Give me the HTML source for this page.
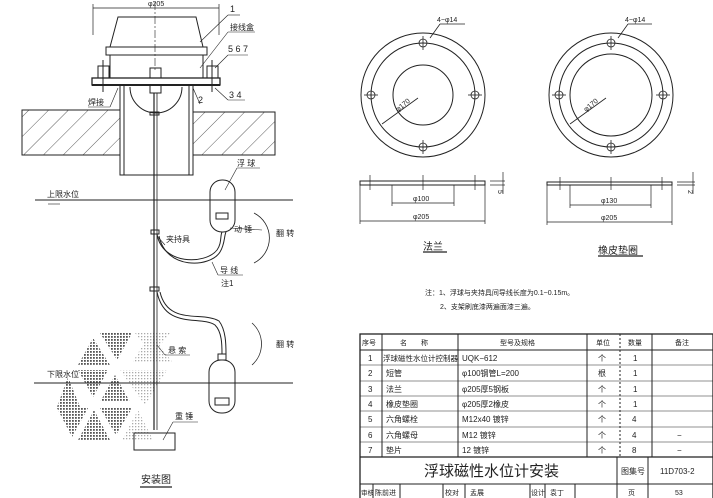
<!DOCTYPE html>
<html><head><meta charset="utf-8"><style>
html,body{margin:0;padding:0;background:#fff;}
svg{display:block;}
text{font-family:"Liberation Sans","Noto Sans CJK SC",sans-serif;fill:#222;}
</style></head><body>
<svg width="713" height="498" viewBox="0 0 713 498" xmlns="http://www.w3.org/2000/svg">
<defs>
<pattern id="hatch" width="14" height="14" patternUnits="userSpaceOnUse" patternTransform="rotate(45)">
<line x1="0" y1="0" x2="0" y2="14" stroke="#333" stroke-width="0.8"/>
</pattern>
<pattern id="dots" width="3" height="3" patternUnits="userSpaceOnUse">
<rect width="1.8" height="1.8" fill="#555"/>
</pattern>
<pattern id="dotsl" width="3" height="3" patternUnits="userSpaceOnUse">
<rect width="1.3" height="1.3" fill="#aaa"/>
</pattern>
</defs>
<g stroke="#222" stroke-width="1" fill="none">
<g stroke="none">
<polygon points="93,338 78,365 110,365" fill="url(#dots)"/>
<polygon points="100,333 132,333 117,360" fill="url(#dots)"/>
<polygon points="150,333 132,363 173,363" fill="url(#dotsl)"/>
<polygon points="135,333 170,333 152,355" fill="url(#dotsl)"/>
<polygon points="78,370 108,370 93,397" fill="url(#dots)"/>
<polygon points="115,375 100,402 130,402" fill="url(#dots)"/>
<polygon points="120,370 167,370 145,405" fill="url(#dotsl)"/>
<polygon points="68,377 57,407 80,407" fill="url(#dots)"/>
<polygon points="57,408 88,408 72,437" fill="url(#dots)"/>
<polygon points="94,410 78,440 110,440" fill="url(#dots)"/>
<polygon points="100,408 132,408 116,435" fill="url(#dots)"/>
<polygon points="138,410 122,440 153,440" fill="url(#dotsl)"/>
</g>
<line x1="93" y1="8" x2="219" y2="8" stroke-width="0.7"/>
<line x1="93" y1="4" x2="93" y2="35" stroke-width="0.7"/>
<line x1="219" y1="4" x2="219" y2="35" stroke-width="0.7"/>
<polygon points="118,17 196,17 203,47 110,47"/>
<rect x="106" y="47" width="101" height="8"/>
<rect x="110" y="55" width="93" height="23"/>
<rect x="92" y="78" width="128" height="7" stroke-width="1.3"/>
<line x1="92" y1="85" x2="220" y2="85" stroke-width="2"/>
<rect x="98" y="66" width="11" height="12"/><line x1="103" y1="60" x2="103" y2="92"/>
<rect x="207" y="66" width="11" height="12"/><line x1="212" y1="60" x2="212" y2="92"/>
<rect x="150" y="68" width="11" height="10"/>
<rect x="150" y="85" width="11" height="8"/>
<line x1="155" y1="2" x2="155" y2="70" stroke-width="0.6" stroke-dasharray="8,2,2,2"/>
<rect x="120" y="85" width="73" height="90"/>
<line x1="124" y1="85" x2="124" y2="175"/>
<line x1="189" y1="85" x2="189" y2="175"/>
<path d="M130,87 A26,26 0 0 0 182,87"/>
<rect x="22" y="110" width="98" height="45" fill="url(#hatch)"/>
<rect x="193" y="112" width="82" height="43" fill="url(#hatch)"/>
<line x1="154" y1="93" x2="154" y2="430" stroke-width="1.2"/>
<line x1="157" y1="93" x2="157" y2="430" stroke-width="0.8"/>
<rect x="150" y="112" width="9" height="3"/>
<rect x="151" y="230" width="8" height="4"/>
<rect x="150" y="287" width="9" height="4"/>
<rect x="134" y="433" width="41" height="17"/>
<line x1="35" y1="200" x2="293" y2="200"/>
<line x1="48" y1="204" x2="60" y2="204" stroke-width="0.6"/>
<line x1="34" y1="383" x2="293" y2="383"/>
<rect x="210" y="180" width="25" height="52" rx="12"/>
<rect x="216" y="213" width="12" height="6"/>
<rect x="209" y="360" width="26" height="53" rx="12"/>
<rect x="215" y="398" width="14" height="7"/>
<rect x="218" y="354" width="8" height="6"/>
<path d="M157,234 C162,265 205,265 217,250 C222,243 220,236 222,232"/>
<path d="M159,236 C166,270 210,268 220,252 C225,244 224,236 226,232"/>
<path d="M157,292 C165,330 200,315 215,325 C222,332 222,345 222,354"/>
<path d="M160,292 C168,326 203,311 219,321 C226,330 226,345 226,354"/>
<path d="M254,213 A28,28 0 0 1 254,263" stroke-width="0.8"/>
<path d="M252,323 A28,28 0 0 1 252,365" stroke-width="0.8"/>
<line x1="200" y1="42" x2="228" y2="15" stroke-width="0.6"/>
<line x1="228" y1="15" x2="240" y2="15" stroke-width="0.6"/>
<line x1="200" y1="68" x2="228" y2="32" stroke-width="0.6"/>
<line x1="228" y1="32" x2="255" y2="32" stroke-width="0.6"/>
<line x1="215" y1="68" x2="228" y2="55" stroke-width="0.6"/>
<line x1="228" y1="55" x2="248" y2="55" stroke-width="0.6"/>
<line x1="215" y1="88" x2="228" y2="100" stroke-width="0.6"/>
<line x1="228" y1="100" x2="245" y2="100" stroke-width="0.6"/>
<line x1="193" y1="88" x2="200" y2="104" stroke-width="0.6"/>
<line x1="118" y1="88" x2="110" y2="107" stroke-width="0.6"/>
<line x1="88" y1="107" x2="110" y2="107" stroke-width="0.6"/>
<line x1="225" y1="190" x2="237" y2="168" stroke-width="0.6"/>
<line x1="237" y1="168" x2="260" y2="168" stroke-width="0.6"/>
<line x1="230" y1="228" x2="262" y2="230" stroke-width="0.6"/>
<line x1="157" y1="236" x2="165" y2="245" stroke-width="0.6"/>
<line x1="212" y1="262" x2="218" y2="275" stroke-width="0.6"/>
<line x1="218" y1="275" x2="243" y2="275" stroke-width="0.6"/>
<line x1="157" y1="345" x2="165" y2="355" stroke-width="0.6"/>
<line x1="165" y1="355" x2="190" y2="355" stroke-width="0.6"/>
<line x1="163" y1="440" x2="173" y2="422" stroke-width="0.6"/>
<line x1="173" y1="422" x2="198" y2="422" stroke-width="0.6"/>
<line x1="140" y1="487" x2="172" y2="487" stroke-width="1.2"/>

<circle cx="423" cy="95" r="62"/>
<circle cx="423" cy="95" r="52"/>
<circle cx="423" cy="95" r="30"/>
<g stroke-width="0.8">
<circle cx="423" cy="43" r="4"/><circle cx="423" cy="147" r="4"/>
<circle cx="371" cy="95" r="4"/><circle cx="475" cy="95" r="4"/>
<line x1="423" y1="36" x2="423" y2="50"/><line x1="423" y1="140" x2="423" y2="154"/>
<line x1="364" y1="95" x2="378" y2="95"/><line x1="468" y1="95" x2="482" y2="95"/>
<line x1="382" y1="124" x2="418" y2="98"/>
<line x1="430" y1="38" x2="440" y2="24"/><line x1="440" y1="24" x2="465" y2="24"/>
</g>
<circle cx="611" cy="95" r="62"/>
<circle cx="611" cy="95" r="52"/>
<circle cx="611" cy="95" r="41"/>
<g stroke-width="0.8">
<circle cx="611" cy="43" r="4"/><circle cx="611" cy="147" r="4"/>
<circle cx="559" cy="95" r="4"/><circle cx="663" cy="95" r="4"/>
<line x1="611" y1="36" x2="611" y2="50"/><line x1="611" y1="140" x2="611" y2="154"/>
<line x1="552" y1="95" x2="566" y2="95"/><line x1="656" y1="95" x2="670" y2="95"/>
<line x1="570" y1="124" x2="606" y2="98"/>
<line x1="618" y1="38" x2="628" y2="24"/><line x1="628" y1="24" x2="652" y2="24"/>
</g>
<rect x="360" y="181" width="125" height="4"/>
<rect x="547" y="182" width="125" height="3"/>
<g stroke-width="0.7">
<line x1="370" y1="175" x2="370" y2="190"/><line x1="475" y1="175" x2="475" y2="190"/><line x1="423" y1="175" x2="423" y2="190"/>
<line x1="392" y1="185" x2="392" y2="206"/><line x1="454" y1="185" x2="454" y2="206"/>
<line x1="392" y1="203" x2="454" y2="203"/>
<line x1="360" y1="185" x2="360" y2="224"/><line x1="485" y1="185" x2="485" y2="224"/>
<line x1="360" y1="221" x2="485" y2="221"/>
<line x1="490" y1="181" x2="505" y2="181"/><line x1="490" y1="185" x2="505" y2="185"/><line x1="503" y1="172" x2="503" y2="194"/>
<line x1="560" y1="177" x2="560" y2="190"/><line x1="662" y1="177" x2="662" y2="190"/><line x1="611" y1="177" x2="611" y2="190"/>
<line x1="570" y1="185" x2="570" y2="208"/><line x1="651" y1="185" x2="651" y2="208"/>
<line x1="570" y1="205" x2="651" y2="205"/>
<line x1="547" y1="185" x2="547" y2="225"/><line x1="672" y1="185" x2="672" y2="225"/>
<line x1="547" y1="222" x2="672" y2="222"/>
<line x1="677" y1="182" x2="695" y2="182"/><line x1="677" y1="185" x2="695" y2="185"/><line x1="693" y1="172" x2="693" y2="194"/>
<line x1="423" y1="252" x2="447" y2="252" stroke-width="1.2"/>
<line x1="598" y1="256" x2="643" y2="256" stroke-width="1.2"/>
</g>

<g stroke-width="1">
<rect x="360" y="334" width="353" height="170" stroke-width="1.3"/>
<line x1="360" y1="350" x2="713" y2="350"/>
<line x1="360" y1="365" x2="713" y2="365" stroke-width="0.6"/>
<line x1="360" y1="381" x2="713" y2="381" stroke-width="0.6"/>
<line x1="360" y1="396" x2="713" y2="396" stroke-width="0.6"/>
<line x1="360" y1="411" x2="713" y2="411" stroke-width="0.6"/>
<line x1="360" y1="427" x2="713" y2="427" stroke-width="0.6"/>
<line x1="360" y1="442" x2="713" y2="442" stroke-width="0.6"/>
<line x1="360" y1="457" x2="713" y2="457" stroke-width="1.2"/>
<line x1="360" y1="484" x2="713" y2="484"/>
<line x1="382" y1="334" x2="382" y2="457"/>
<line x1="458" y1="334" x2="458" y2="457"/>
<line x1="587" y1="334" x2="587" y2="457"/>
<line x1="620" y1="334" x2="620" y2="457" stroke-dasharray="2,2"/>
<line x1="652" y1="334" x2="652" y2="457"/>
<line x1="617" y1="457" x2="617" y2="498"/>
<line x1="648" y1="457" x2="648" y2="498"/>
<line x1="373" y1="484" x2="373" y2="498"/>
<line x1="400" y1="484" x2="400" y2="498"/>
<line x1="443" y1="484" x2="443" y2="498"/>
<line x1="465" y1="484" x2="465" y2="498"/>
<line x1="530" y1="484" x2="530" y2="498"/>
<line x1="545" y1="484" x2="545" y2="498"/>
<line x1="575" y1="484" x2="575" y2="498"/>
</g>
</g>

<g font-size="8">
<text x="148" y="6" font-size="7">φ205</text>
<text x="230" y="12" font-size="9">1</text>
<text x="230" y="30">接线盒</text>
<text x="228" y="52" font-size="9">5 6 7</text>
<text x="229" y="98" font-size="9">3 4</text>
<text x="198" y="103" font-size="9">2</text>
<text x="88" y="105">焊接</text>
<text x="237" y="166">浮 球</text>
<text x="47" y="197">上限水位</text>
<text x="234" y="232">动 锤</text>
<text x="276" y="236">翻 转</text>
<text x="166" y="242">夹持具</text>
<text x="220" y="273">导 线</text>
<text x="221" y="286">注1</text>
<text x="168" y="353">悬 索</text>
<text x="276" y="347">翻 转</text>
<text x="47" y="377">下限水位</text>
<text x="175" y="419">重 锤</text>
<text x="141" y="483" font-size="10">安装图</text>
</g>
<g font-size="7">
<text x="437" y="22">4−φ14</text>
<text x="625" y="22">4−φ14</text>
<text x="398" y="112" transform="rotate(-40 398 112)">φ170</text>
<text x="586" y="112" transform="rotate(-40 586 112)">φ170</text>
<text x="413" y="201">φ100</text>
<text x="413" y="219">φ205</text>
<text x="601" y="203">φ130</text>
<text x="601" y="220">φ205</text>
<text x="498" y="190" transform="rotate(90 498 190)">5</text>
<text x="688" y="190" transform="rotate(90 688 190)">2</text>
<text x="423" y="250" font-size="10">法兰</text>
<text x="598" y="254" font-size="10">橡皮垫圈</text>
<text x="425" y="295">注：1、浮球与夹持具间导线长度为0.1~0.15m。</text>
<text x="440" y="309">2、支架刷底漆两遍面漆三遍。</text>
</g>
<g font-size="8">
<text x="362" y="345" font-size="7">序号</text>
<text x="400" y="345" font-size="7">名　　称</text>
<text x="500" y="345" font-size="7">型号及规格</text>
<text x="596" y="345" font-size="7">单位</text>
<text x="628" y="345" font-size="7">数量</text>
<text x="675" y="345" font-size="7">备注</text>
<text x="368" y="361">1</text><text x="383" y="361" font-size="7.5">浮球磁性水位计控制器</text><text x="462" y="361">UQK−612</text><text x="598" y="361">个</text><text x="633" y="361">1</text>
<text x="368" y="376">2</text><text x="386" y="376">短管</text><text x="462" y="376">φ100钢管L=200</text><text x="598" y="376">根</text><text x="633" y="376">1</text>
<text x="368" y="392">3</text><text x="386" y="392">法兰</text><text x="462" y="392">φ205厚5钢板</text><text x="598" y="392">个</text><text x="633" y="392">1</text>
<text x="368" y="407">4</text><text x="386" y="407">橡皮垫圈</text><text x="462" y="407">φ205厚2橡皮</text><text x="598" y="407">个</text><text x="633" y="407">1</text>
<text x="368" y="422">5</text><text x="386" y="422">六角螺栓</text><text x="462" y="422">M12x40 镀锌</text><text x="598" y="422">个</text><text x="632" y="422">4</text>
<text x="368" y="438">6</text><text x="386" y="438">六角螺母</text><text x="462" y="438">M12 镀锌</text><text x="598" y="438">个</text><text x="632" y="438">4</text><text x="677" y="438">−</text>
<text x="368" y="453">7</text><text x="386" y="453">垫片</text><text x="462" y="453">12 镀锌</text><text x="598" y="453">个</text><text x="632" y="453">8</text><text x="677" y="453">−</text>
<text x="424" y="476" font-size="15">浮球磁性水位计安装</text>
<text x="621" y="474">图集号</text>
<text x="660" y="474">11D703-2</text>
<text x="361" y="495" font-size="6.5">审核</text><text x="375" y="495" font-size="7">陈前进</text>
<text x="445" y="495" font-size="7">校对</text><text x="470" y="495" font-size="7">孟展</text>
<text x="531" y="495" font-size="7">设计</text><text x="550" y="495" font-size="7">袁丁</text>
<text x="628" y="495" font-size="7">页</text><text x="675" y="495" font-size="7">53</text>
</g>
</svg>
</body></html>
